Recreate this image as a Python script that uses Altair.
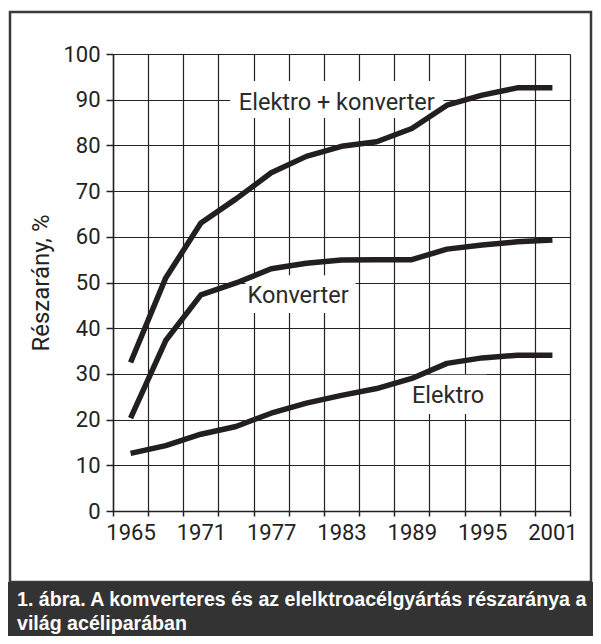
import altair as alt
import pandas as pd

# ---- data ----
years = [1965, 1968, 1971, 1974, 1977, 1980, 1983, 1986, 1989, 1992, 1995, 1998, 2001]
total = [32.5, 51.0, 63.0, 68.3, 74.0, 77.6, 79.8, 80.8, 83.7, 88.8, 91.0, 92.6, 92.6]
konverter = [20.3, 37.3, 47.3, 49.9, 53.0, 54.2, 54.9, 55.0, 55.0, 57.3, 58.2, 58.9, 59.3]
elektro = [12.6, 14.3, 16.8, 18.5, 21.4, 23.6, 25.3, 26.8, 29.0, 32.3, 33.5, 34.1, 34.1]
series_names = ["Elektro + konverter", "Konverter", "Elektro"]

label_text = ["Elektro + konverter", "Konverter", "Elektro"]
label_x = [1982.6, 1979.3, 1992.1]
label_y = [89.3, 47.0, 25.2]
box_x1 = [1973.5, 1974.8, 1988.85]
box_x2 = [1991.7, 1984.2, 1995.4]
box_y1 = [86.0, 43.3, 21.2]
box_y2 = [94.1, 51.6, 29.8]

y_title = "Részarány, %"
caption_lines = [
    "1. ábra. A komverteres és az elelktroacélgyártás részaránya a",
    "világ acéliparában",
]

# ---- tables ----
df = pd.DataFrame({
    "year": years * 3,
    "value": total + konverter + elektro,
    "series": [n for n, s in zip(series_names, [total, konverter, elektro]) for _ in s],
})
ann = pd.DataFrame({
    "label": label_text, "lx": label_x, "ly": label_y,
    "x1": box_x1, "x2": box_x2, "y1": box_y1, "y2": box_y2,
})
one = pd.DataFrame({"k": [0]})

INK = "#231f20"
FONT = "Roboto"

xq_scale = alt.Scale(domain=[1963.5, 2002.5], nice=False, zero=False)
yq_scale = alt.Scale(domain=[0, 100], nice=False)

lines = alt.Chart(df).mark_line(strokeWidth=5.5, color=INK, strokeJoin="round").encode(
    x=alt.X(
        "year:O",
        scale=alt.Scale(type="band", paddingInner=0, paddingOuter=0),
        bandPosition=0.5,
        axis=alt.Axis(
            orient="bottom", tickBand="extent", grid=True, labelAngle=0, title=None,
            labelExpr="(toNumber(datum.value) - 1965) % 6 == 0 ? datum.label : ''",
            tickSize=5, labelPadding=6,
        ),
    ),
    y=alt.Y(
        "value:Q", scale=yq_scale,
        axis=alt.Axis(
            orient="left", values=list(range(0, 101, 10)), grid=True, title=y_title,
            tickSize=7, labelPadding=6, titlePadding=9,
        ),
    ),
    detail="series:N",
)

rects = alt.Chart(ann).mark_rect(color="white").encode(
    x=alt.X("x1:Q", scale=xq_scale, axis=None), x2="x2:Q",
    y=alt.Y("y1:Q", scale=yq_scale, axis=None), y2="y2:Q",
)

texts = alt.Chart(ann).mark_text(font=FONT, fontSize=23.5, color="#2a2a2a", baseline="middle", align="center").encode(
    x=alt.X("lx:Q", scale=xq_scale, axis=None),
    y=alt.Y("ly:Q", scale=yq_scale, axis=None),
    text="label:N",
)

frame = alt.Chart(one).mark_rect(filled=False, stroke="#3a3a3a", strokeWidth=2.5).encode(
    x=alt.value(-103), x2=alt.value(478), y=alt.value(-42), y2=alt.value(528),
)
bar = alt.Chart(one).mark_rect(color="#333333").encode(
    x=alt.value(-105), x2=alt.value(490), y=alt.value(528), y2=alt.value(595),
)
caption = alt.Chart(one).mark_text(
    font="Liberation Sans", fontWeight="bold", fontSize=19.6, color="white",
    align="left", baseline="alphabetic", lineHeight=24,
).encode(x=alt.value(-96), y=alt.value(552), text=alt.value(caption_lines))

chart = alt.layer(frame, bar, caption, rects, lines, texts).resolve_scale(
    x="independent", y="independent"
).properties(
    width=457, height=457,
    padding={"left": 105, "top": 46, "right": 23, "bottom": 125},
    autosize=alt.AutoSizeParams(type="none"),
).configure_view(strokeWidth=0).configure_axis(
    domainColor="#222", gridColor="#222", tickColor="#222",
    domainWidth=1.5, gridWidth=1.2, tickWidth=1.5, gridOpacity=1,
    labelFont=FONT, labelFontSize=22, labelColor="#222",
    titleFont=FONT, titleFontSize=24, titleFontWeight="normal", titleColor="#222",
)

chart.save("out.html", embed_options={"renderer": "svg", "actions": False})
